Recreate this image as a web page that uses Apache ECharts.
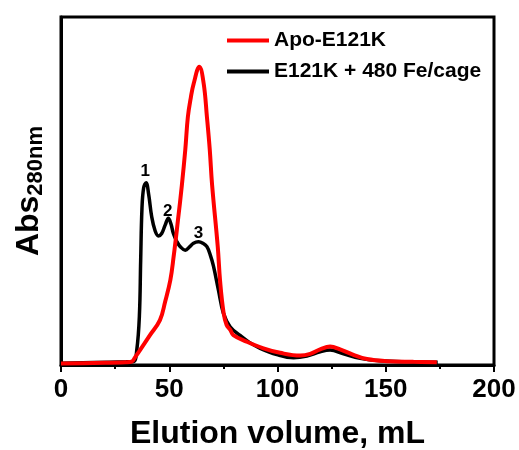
<!DOCTYPE html>
<html>
<head>
<meta charset="utf-8">
<script src="https://cdn.jsdelivr.net/npm/echarts@6/dist/echarts.min.js"></script>
<style>
  html, body { margin: 0; padding: 0; background: #fff; }
  #view1 { width: 519px; height: 450px; }
</style>
</head>
<body>
<div id="view1"></div>
<script>
// elution volume (mL) and absorbance
var redVol = [0, 15, 30, 32.7, 34.5, 36.5, 41.1, 45.7, 48.1, 50.5, 52, 54, 55.8, 57.4, 58.6, 60, 61.3, 63.9, 65.9, 67.4, 68.7, 69.8, 72.4, 73.5, 75.1, 76.5, 78.2, 79.6, 85.8, 93.5, 101.2, 110.5, 115.1, 119.7, 124.3, 128.9, 135.1, 141.3, 150.5, 162.8, 173.6];
var redAbs = [0.4, 0.6, 0.8, 1.0, 2.5, 4.3, 8.6, 12.9, 18.2, 24.4, 31, 41.5, 51.5, 61.8, 71.3, 77, 80.9, 85.7, 80.9, 71.3, 62, 51.7, 34, 24, 15, 11.5, 10.1, 8.6, 6.7, 4.8, 3.5, 2.7, 3.2, 4.5, 5.3, 4.5, 2.9, 1.7, 1.1, 0.9, 0.8];

var blackVol = [0, 15, 30, 33.5, 35, 36.2, 36.8, 37.4, 38.2, 39.3, 40.5, 41.9, 43.5, 45, 46.5, 48.1, 49.6, 50.8, 51.9, 53.5, 55.1, 57.4, 59.5, 61.2, 63.5, 65.5, 67.4, 69, 70.4, 72.7, 75, 78.1, 82.7, 87, 92, 99.7, 107.4, 113.6, 119.7, 124.3, 130.5, 138.2, 147.4, 160, 174];
var blackAbs = [0.5, 0.7, 0.9, 1.0, 4.3, 14, 30, 45, 51, 52.4, 49, 42.6, 38.5, 37.1, 37.8, 40.2, 42.2, 40.5, 37.8, 35.5, 34, 33, 34, 35, 35.4, 35, 34, 31.5, 28.5, 21.6, 14.9, 11, 8.5, 6.5, 4.8, 3.0, 2.1, 2.6, 3.8, 4.3, 3.2, 1.9, 1.2, 0.9, 0.8];

var peakNames = ['1', '2', '3'];
var peakVol = [38.9, 49.3, 63.5];
var peakAbs = [55.6, 44.3, 37.9];

var xTicks = [0, 50, 100, 150, 200];

function pairs(xs, ys) {
  return xs.map(function (x, i) { return [x, ys[i]]; });
}

var font = 'Liberation Sans, Arial, sans-serif';

var option = {
  animation: false,
  grid: {
    left: 61,
    right: 25,
    top: 17,
    bottom: 85,
    outerBoundsMode: 'none',
    show: true,
    borderColor: '#000',
    borderWidth: 3
  },
  legend: {
    data: ['Apo-E121K', 'E121K + 480 Fe/cage'],
    orient: 'vertical',
    left: 222,
    top: 25,
    icon: 'rect',
    itemWidth: 42,
    itemHeight: 4,
    itemGap: 10,
    textStyle: {
      fontFamily: font,
      fontWeight: 'bold',
      fontSize: 21,
      lineHeight: 21,
      color: '#000'
    }
  },
  xAxis: {
    type: 'value',
    min: xTicks[0],
    max: xTicks[xTicks.length - 1],
    interval: 50,
    name: 'Elution volume, mL',
    nameLocation: 'middle',
    nameGap: 53,
    nameTextStyle: {
      fontFamily: font,
      fontWeight: 'bold',
      fontSize: 32,
      color: '#000'
    },
    axisLine: { lineStyle: { color: '#000', width: 3 } },
    axisTick: { length: 7, lineStyle: { color: '#000', width: 2 } },
    minorTick: { show: true, splitNumber: 2, length: 4, lineStyle: { color: '#000', width: 2 } },
    splitLine: { show: false },
    axisLabel: {
      margin: 12,
      fontFamily: font,
      fontWeight: 'bold',
      fontSize: 26,
      color: '#000'
    }
  },
  yAxis: {
    type: 'value',
    min: 0,
    max: 100,
    name: '{a|Abs}{b|280nm}',
    nameLocation: 'middle',
    nameRotate: 90,
    nameGap: 14,
    nameTextStyle: {
      fontFamily: font,
      color: '#000',
      rich: {
        a: { fontFamily: font, fontWeight: 'bold', fontSize: 32, lineHeight: 36, color: '#000' },
        b: { fontFamily: font, fontWeight: 'bold', fontSize: 22, lineHeight: 22, verticalAlign: 'bottom', color: '#000' }
      }
    },
    axisLine: { show: true, lineStyle: { color: '#000', width: 3 } },
    axisTick: { show: false },
    axisLabel: { show: false },
    splitLine: { show: false }
  },
  series: [
    {
      name: 'E121K + 480 Fe/cage',
      type: 'line',
      data: pairs(blackVol, blackAbs),
      smooth: 0.4,
      symbol: 'none',
      color: '#000',
      lineStyle: { width: 3.5, color: '#000' },
      markPoint: {
        symbol: 'circle',
        symbolSize: 0,
        label: {
          show: true,
          position: 'inside',
          formatter: '{b}',
          fontFamily: font,
          fontWeight: 'bold',
          fontSize: 17,
          color: '#000'
        },
        data: peakNames.map(function (n, i) {
          return { name: n, coord: [peakVol[i], peakAbs[i]] };
        })
      }
    },
    {
      name: 'Apo-E121K',
      type: 'line',
      data: pairs(redVol, redAbs),
      smooth: 0.4,
      symbol: 'none',
      color: '#ff0000',
      lineStyle: { width: 4, color: '#ff0000' }
    }
  ]
};

echarts.init(document.getElementById('view1')).setOption(option);
</script>
</body>
</html>
